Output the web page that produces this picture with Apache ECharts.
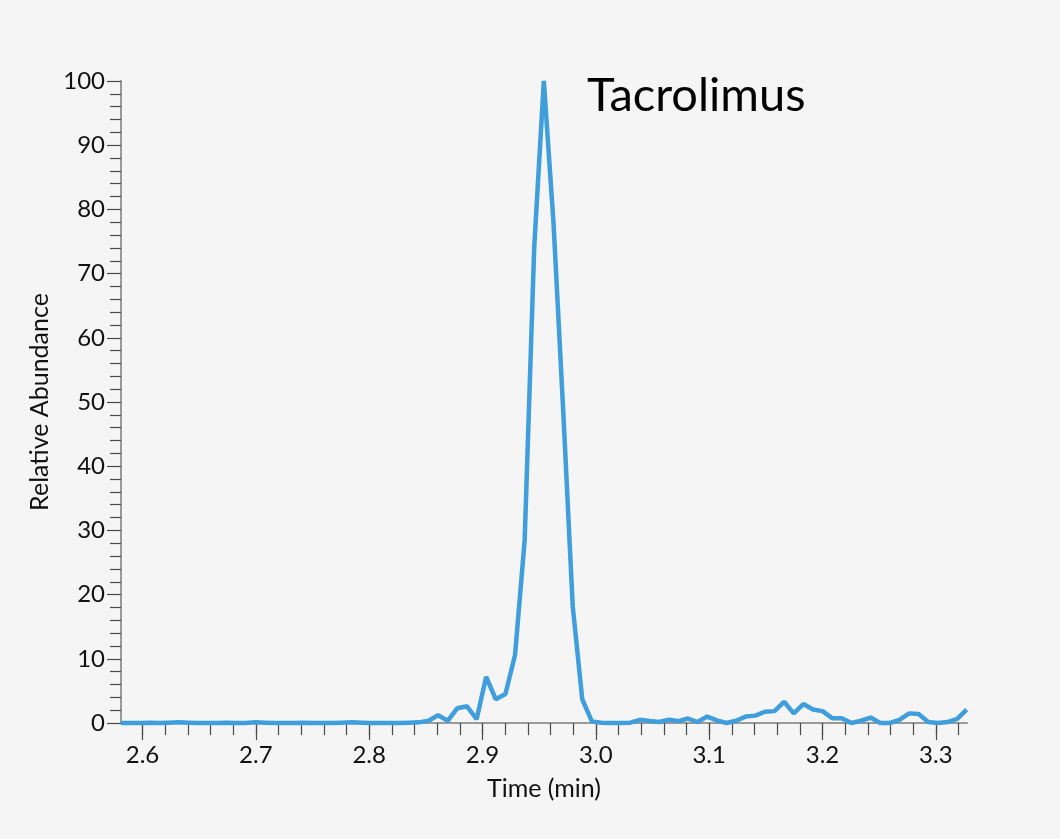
<!DOCTYPE html>
<html>
<head>
<meta charset="utf-8">
<script src="https://cdn.jsdelivr.net/npm/echarts@6/dist/echarts.min.js"></script>
<style>
  html, body { margin: 0; padding: 0; background: #f5f5f5; }
  #chart { width: 1060px; height: 839px; }
</style>
</head>
<body>
<div id="chart"></div>
<script>
// ---- data ----
const title = 'Tacrolimus';
const xName = 'Time (min)';
const yName = 'Relative Abundance';
const times = [
  2.5810, 2.5895, 2.5980, 2.6064, 2.6149, 2.6234, 2.6319, 2.6404, 2.6488, 2.6573,
  2.6658, 2.6743, 2.6828, 2.6912, 2.6997, 2.7082, 2.7167, 2.7252, 2.7336, 2.7421,
  2.7506, 2.7591, 2.7676, 2.7760, 2.7845, 2.7930, 2.8015, 2.8100, 2.8184, 2.8269,
  2.8354, 2.8439, 2.8524, 2.8608, 2.8693, 2.8778, 2.8863, 2.8948, 2.9032, 2.9117,
  2.9202, 2.9287, 2.9372, 2.9456, 2.9541, 2.9626, 2.9711, 2.9796, 2.9880, 2.9965,
  3.0050, 3.0135, 3.0220, 3.0304, 3.0389, 3.0474, 3.0559, 3.0644, 3.0728, 3.0813,
  3.0898, 3.0983, 3.1068, 3.1152, 3.1237, 3.1322, 3.1407, 3.1492, 3.1576, 3.1661,
  3.1746, 3.1831, 3.1916, 3.2000, 3.2085, 3.2170, 3.2255, 3.2340, 3.2424, 3.2509,
  3.2594, 3.2679, 3.2764, 3.2848, 3.2933, 3.3018, 3.3103, 3.3188, 3.3272
];
const abundance = [
  0.0, 0.0, 0.0, 0.05, 0.0, 0.05, 0.1, 0.05, 0.0, 0.0,
  0.0, 0.05, 0.0, 0.0, 0.1, 0.05, 0.0, 0.0, 0.0, 0.05,
  0.0, 0.0, 0.0, 0.05, 0.1, 0.05, 0.0, 0.0, 0.0, 0.0,
  0.05, 0.1, 0.35, 1.2, 0.35, 2.3, 2.6, 0.6, 7.2, 3.7,
  4.5, 10.6, 28.5, 74.0, 100.0, 78.0, 49.0, 18.2, 3.7, 0.25,
  0.05, 0.0, 0.0, 0.05, 0.5, 0.3, 0.15, 0.5, 0.3, 0.7,
  0.15, 1.0, 0.4, 0.0, 0.35, 1.0, 1.15, 1.75, 1.85, 3.3,
  1.5, 2.95, 2.1, 1.85, 0.75, 0.75, 0.0, 0.35, 0.85, 0.0,
  0.0, 0.5, 1.5, 1.4, 0.15, 0.0, 0.15, 0.65, 2.1
];
const xMin = 2.581, xMax = 3.3275;
const xMajorMin = 2.6, xMajorMax = 3.3, xMajorStep = 0.1;
const xMinorMax = 3.32, xMinorStep = 0.02;
const yMin = 0, yMax = 100, yStep = 10;

// ---- layout ----
const W = 1060, H = 839;
const L = 121, R = 967, TOP = 81, BOT = 723;
const px = v => L + (v - xMin) / (xMax - xMin) * (R - L);
const FONT = 'Lato';
const axisGray = '#9a9a9a';
const tickCol = '#4a4a4a';

function grid(x0, x1) {
  return { left: x0, right: W - x1, top: TOP, bottom: H - BOT, containLabel: false };
}
const hiddenY = idx => ({ type: 'value', gridIndex: idx, min: yMin, max: yMax, show: false });

const chart = echarts.init(document.getElementById('chart'), null, { renderer: 'canvas' });
chart.setOption({
  backgroundColor: '#f5f5f5',
  animation: false,
  title: {
    text: title, left: 582, top: 67,
    textStyle: { fontFamily: FONT, fontSize: 47, fontWeight: 'normal', color: '#000' }
  },
  grid: [grid(L, R), grid(px(xMajorMin), px(xMajorMax)), grid(px(xMajorMin), px(xMinorMax))],
  xAxis: [
    {
      type: 'value', gridIndex: 0, min: xMin, max: xMax,
      axisLine: { show: true, lineStyle: { color: axisGray, width: 2 } },
      axisTick: { show: false }, axisLabel: { show: false }, splitLine: { show: false },
      name: xName, nameLocation: 'middle', nameGap: 53,
      nameTextStyle: { fontFamily: FONT, fontSize: 25, color: '#111' }
    },
    {
      type: 'value', gridIndex: 1, min: xMajorMin, max: xMajorMax, interval: xMajorStep,
      axisLine: { show: false },
      axisTick: { show: true, length: 17, lineStyle: { color: tickCol, width: 1.2 } },
      axisLabel: { show: true, margin: 20, fontFamily: FONT, fontSize: 24, color: '#111',
        formatter: v => v.toFixed(1) },
      splitLine: { show: false }
    },
    {
      type: 'value', gridIndex: 2, min: xMajorMin, max: xMinorMax, interval: xMinorStep,
      axisLine: { show: false },
      axisTick: { show: true, length: 12, lineStyle: { color: tickCol, width: 1.2 } },
      axisLabel: { show: false }, splitLine: { show: false }
    }
  ],
  yAxis: [
    {
      type: 'value', gridIndex: 0, min: yMin, max: yMax, interval: yStep,
      axisLine: { show: true, lineStyle: { color: axisGray, width: 2 } },
      axisTick: { show: true, length: 14, lineStyle: { color: tickCol, width: 1.2 } },
      minorTick: { show: true, splitNumber: 5, length: 11, lineStyle: { color: tickCol, width: 1.2 } },
      axisLabel: { margin: 16, fontFamily: FONT, fontSize: 24, color: '#111' },
      splitLine: { show: false },
      name: yName, nameLocation: 'middle', nameGap: 64, nameRotate: 90,
      nameTextStyle: { fontFamily: FONT, fontSize: 25, color: '#111' }
    },
    hiddenY(1), hiddenY(2)
  ],
  series: [{
    type: 'line', xAxisIndex: 0, yAxisIndex: 0,
    data: times.map((t, i) => [t, abundance[i]]),
    showSymbol: false, symbol: 'none', smooth: false,
    lineStyle: { color: '#3f9edb', width: 4.5 },
    clip: false, z: 3
  }]
});
</script>
</body>
</html>
